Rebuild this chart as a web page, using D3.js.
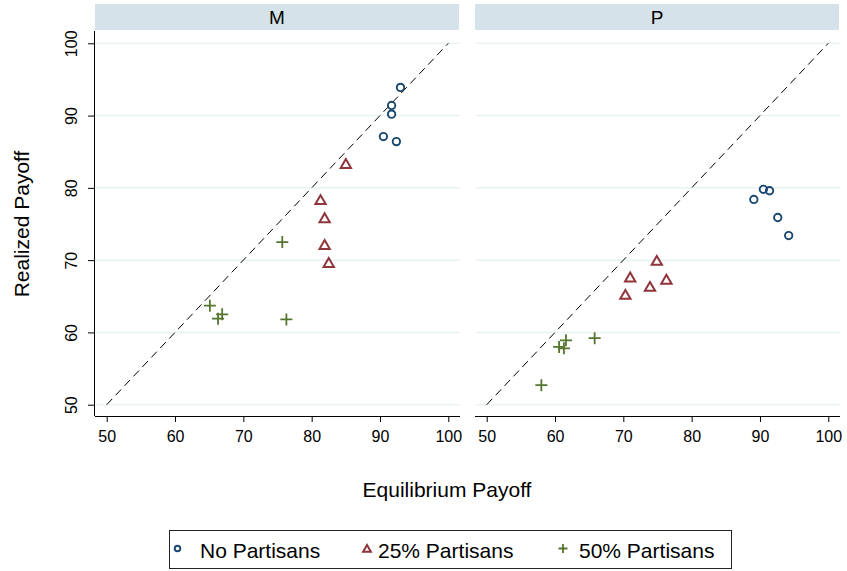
<!DOCTYPE html>
<html lang="en">
<head>
  <meta charset="utf-8" />
  <title>Realized vs Equilibrium Payoff</title>
  <script src="https://d3js.org/d3.v7.min.js"></script>
  <style>
    body { margin: 0; background: #fff; }
    text { font-family: "Liberation Sans", Arial, sans-serif; fill: #000; }
  </style>
</head>
<body>
  <div id="chart"></div>
  <script>
    // panels and series
    var panels = ["M", "P"];
    var seriesNames = ["No Partisans", "25% Partisans", "50% Partisans"];
    var seriesColors = ["#1a476f", "#90353b", "#55752f"];
    var ticks = [50, 60, 70, 80, 90, 100];

    // panel M : equilibrium (x) and realized (y) payoffs
    var mNoEq    = [93.0, 91.7, 91.7, 90.5, 92.4];
    var mNoReal  = [93.9, 91.4, 90.2, 87.1, 86.4];
    var m25Eq    = [85.0, 81.3, 81.9, 81.9, 82.5];
    var m25Real  = [83.3, 78.3, 75.8, 72.1, 69.6];
    var m50Eq    = [75.7, 65.1, 66.9, 66.3, 76.3];
    var m50Real  = [72.5, 63.7, 62.5, 61.9, 61.8];

    // panel P
    var pNoEq    = [89.1, 90.5, 91.4, 92.6, 94.2];
    var pNoReal  = [78.4, 79.8, 79.6, 75.9, 73.4];
    var p25Eq    = [74.9, 71.0, 76.3, 73.9, 70.3];
    var p25Real  = [69.9, 67.6, 67.3, 66.3, 65.2];
    var p50Eq    = [65.8, 61.6, 60.6, 61.3, 58.0];
    var p50Real  = [59.2, 58.9, 58.0, 57.8, 52.7];

    var panelData = {
      M: [[mNoEq, mNoReal], [m25Eq, m25Real], [m50Eq, m50Real]],
      P: [[pNoEq, pNoReal], [p25Eq, p25Real], [p50Eq, p50Real]]
    };

    var svg = d3.select("#chart")
                .append("svg")
                .attr("width", 847)
                .attr("height", 571);

    var plotTop = 31, plotBottom = 416, panelW = 365;
    var panelX = [95, 475];

    var y = d3.scaleLinear()
              .domain([50, 100])
              .range([404.7, 43.3]);

    // marker drawing
    function drawMarker(g, s, cx, cy, scale) {
      scale = scale || 1;
      if (s === 0) {
        g.append("circle")
         .attr("cx", cx).attr("cy", cy).attr("r", 3.7 * scale)
         .attr("fill", "none")
         .attr("stroke", seriesColors[0])
         .attr("stroke-width", 1.9);
      } else if (s === 1) {
        g.append("path")
         .attr("d", d3.symbol().type(d3.symbolTriangle).size(46 * scale * scale)())
         .attr("transform", "translate(" + cx + "," + (cy + 1) + ")")
         .attr("fill", "none")
         .attr("stroke", seriesColors[1])
         .attr("stroke-width", 2);
      } else {
        var h = 6 * scale;
        g.append("path")
         .attr("d", "M" + (-h) + ",0H" + h + "M0," + (-h) + "V" + h)
         .attr("transform", "translate(" + cx + "," + cy + ")")
         .attr("fill", "none")
         .attr("stroke", seriesColors[2])
         .attr("stroke-width", 1.8);
      }
    }

    panels.forEach(function(p, i) {
      var x0 = panelX[i];
      var x = d3.scaleLinear()
                .domain([50, 100])
                .range([x0 + 11.7, x0 + 353.3]);
      var g = svg.append("g");

      // strip header
      g.append("rect")
       .attr("x", x0).attr("y", 4)
       .attr("width", 364).attr("height", 26)
       .attr("fill", "#d6e2e9");
      g.append("text")
       .attr("x", x0 + 182).attr("y", 24)
       .attr("text-anchor", "middle")
       .style("font-size", "19px")
       .text(p);

      // horizontal grid
      g.selectAll(".grid")
       .data(ticks)
       .enter()
       .append("line")
       .attr("x1", x0 + 1).attr("x2", x0 + panelW)
       .attr("y1", function(d) { return y(d); })
       .attr("y2", function(d) { return y(d); })
       .attr("stroke", "#eaf2f3")
       .attr("stroke-width", 1.5);

      // 45 degree reference line
      g.append("line")
       .attr("x1", x(50)).attr("y1", y(50))
       .attr("x2", x(100)).attr("y2", y(100))
       .attr("stroke", "#000")
       .attr("stroke-width", 1)
       .attr("stroke-dasharray", "8,5");

      // x axis
      var xAxis = g.append("g")
                   .attr("transform", "translate(0," + plotBottom + ")")
                   .call(d3.axisBottom(x).tickValues(ticks).tickSize(6).tickPadding(5));
      xAxis.select(".domain").attr("d", "M" + x0 + ",0.5H" + (x0 + panelW));
      xAxis.selectAll("text").style("font-size", "16px").attr("dy", "0.95em");
      xAxis.selectAll("line, path").attr("stroke", "#000");

      // y axis only on the first panel
      if (i === 0) {
        var yAxis = g.append("g")
                     .attr("transform", "translate(" + x0 + ",0)")
                     .call(d3.axisLeft(y).tickValues(ticks).tickSize(7));
        yAxis.select(".domain").attr("d", "M-0.5," + plotTop + "V" + plotBottom);
        yAxis.selectAll("line, path").attr("stroke", "#000");
        yAxis.selectAll("text")
             .style("font-size", "16px")
             .attr("text-anchor", "middle")
             .attr("x", null).attr("dy", null)
             .attr("transform", "translate(-18.5,0) rotate(-90)");
      }

      // points
      panelData[p].forEach(function(ser, s) {
        var pts = ser[0].map(function(v, k) { return [v, ser[1][k]]; });
        var sg = g.append("g");
        pts.forEach(function(d) { drawMarker(sg, s, x(d[0]), y(d[1])); });
      });
    });

    // axis titles
    svg.append("text")
       .attr("transform", "translate(29,224) rotate(-90)")
       .attr("text-anchor", "middle")
       .style("font-size", "21px")
       .text("Realized Payoff");

    svg.append("text")
       .attr("x", 447).attr("y", 497)
       .attr("text-anchor", "middle")
       .style("font-size", "21px")
       .text("Equilibrium Payoff");

    // legend
    var legend = svg.append("g");
    legend.append("rect")
          .attr("x", 169.5).attr("y", 530.5)
          .attr("width", 562).attr("height", 38)
          .attr("fill", "#fff")
          .attr("stroke", "#222")
          .attr("stroke-width", 1);
    var legendMarkX = [177.5, 367, 563];
    var legendTextX = [200, 378, 579];
    seriesNames.forEach(function(n, s) {
      drawMarker(legend, s, legendMarkX[s], 548.5, 0.75);
      legend.append("text")
            .attr("x", legendTextX[s]).attr("y", 557.5)
            .style("font-size", "21px")
            .text(n);
    });
  </script>
</body>
</html>
